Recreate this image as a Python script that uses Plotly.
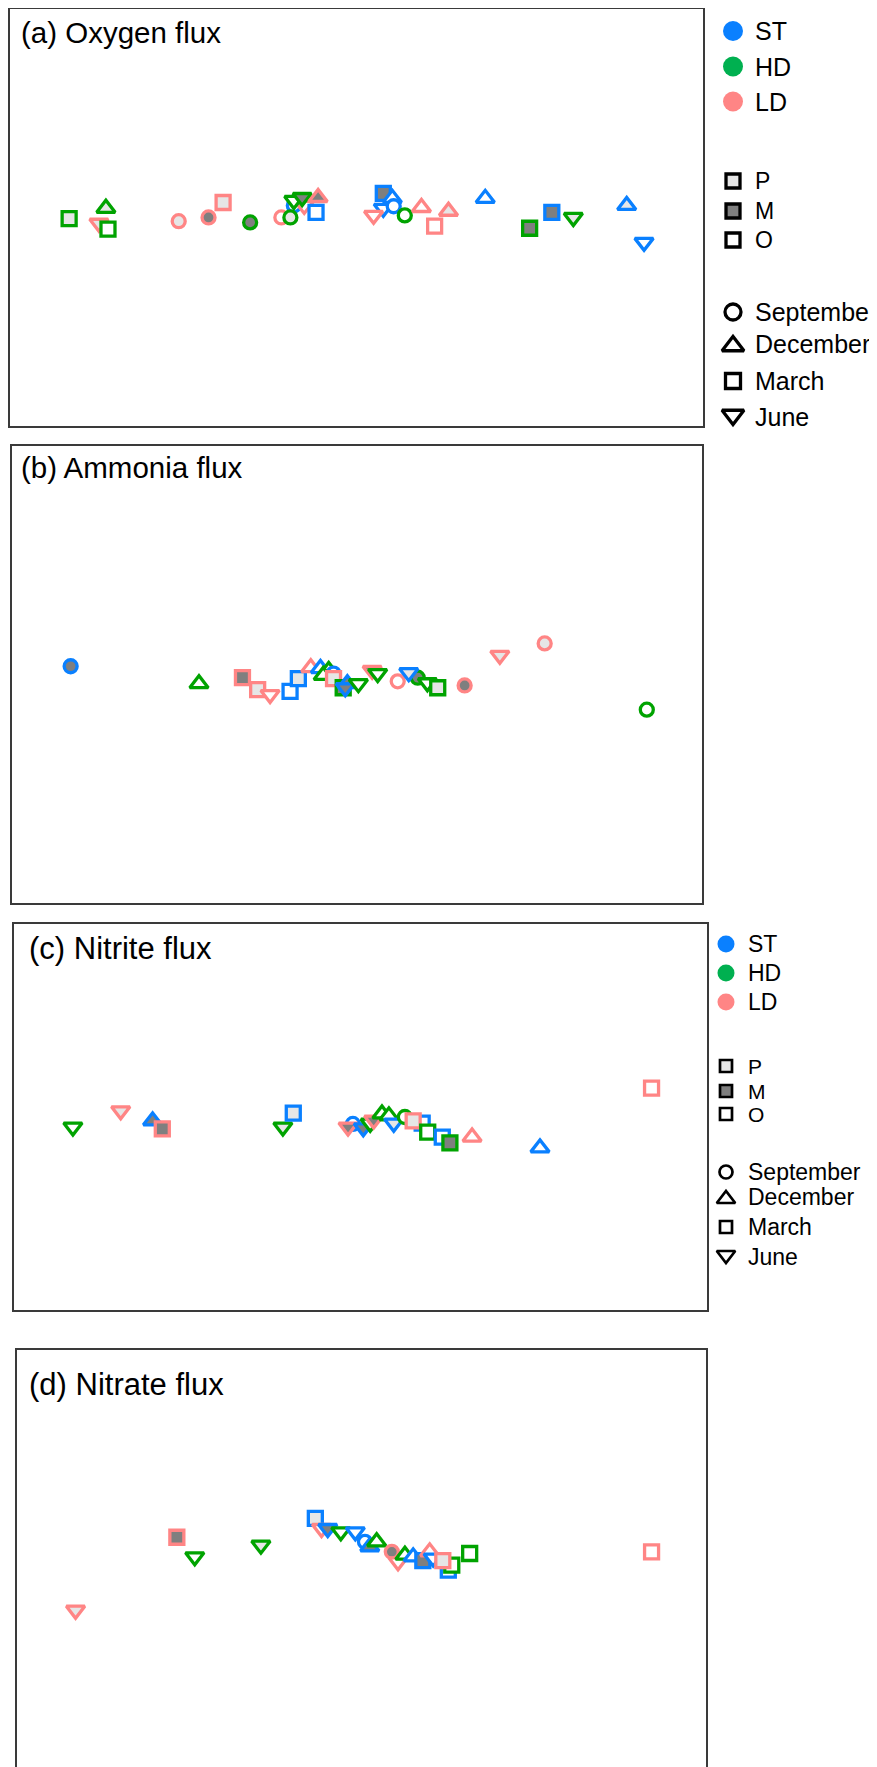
import plotly.graph_objects as go

# page is 877x1767; the html body adds an 8px margin, so the figure is drawn 8px in
PAGE_W, PAGE_H, OFF = 877, 1767, 8
W, H = PAGE_W - OFF, PAGE_H - OFF
FONT = "Liberation Sans, Arial, sans-serif"

# ---------------- categories ----------------
sites = ["ST", "HD", "LD"]
positions = ["P", "M", "O"]
months = ["September", "December", "March", "June"]

# ---------------- panel (a) Oxygen flux ----------------
a_site = ["HD", "HD", "LD", "HD", "LD", "LD", "LD", "HD", "LD", "ST", "HD", "LD", "HD", "HD", "LD", "ST",
          "ST", "ST", "ST", "ST", "LD", "HD", "LD", "LD", "LD", "ST", "HD", "ST", "HD", "ST", "ST"]
a_pos = ["P", "P", "P", "O", "P", "M", "P", "M", "O", "O", "P", "O", "O", "M", "M", "O",
         "M", "O", "O", "O", "O", "O", "O", "O", "P", "O", "M", "M", "P", "P", "O"]
a_month = ["March", "December", "June", "March", "September", "September", "March", "September", "September",
           "September", "September", "June", "June", "June", "December", "March",
           "March", "December", "June", "September", "June", "September", "December", "March", "December",
           "December", "March", "March", "June", "December", "June"]
a_x = [8.6, 13.9, 12.9, 14.2, 24.4, 28.7, 30.8, 34.7, 39.2, 41.0, 40.5, 42.5, 41.0, 42.2, 44.5, 44.2,
       53.9, 55.2, 53.9, 55.4, 52.5, 57.0, 59.4, 61.3, 63.3, 68.6, 75.0, 78.2, 81.3, 89.0, 91.5]
a_y = [49.9, 52.4, 48.8, 47.4, 49.3, 50.2, 53.8, 49.0, 50.2, 53.1, 50.2, 53.1, 54.3, 55.0, 55.0, 51.4,
       56.0, 54.8, 52.4, 52.9, 50.7, 50.7, 52.6, 48.1, 51.7, 54.8, 47.6, 51.4, 50.2, 53.1, 44.2]

# ---------------- panel (b) Ammonia flux ----------------
b_site = ["ST", "HD", "LD", "LD", "LD", "ST", "ST", "LD", "ST", "HD", "ST", "HD", "LD", "HD", "ST", "ST",
          "HD", "LD", "HD", "LD", "HD", "ST", "HD", "HD", "LD", "LD", "LD", "HD"]
b_pos = ["M", "O", "M", "P", "O", "O", "P", "O", "O", "O", "O", "O", "P", "M", "M", "M",
         "O", "M", "O", "O", "M", "P", "O", "P", "M", "P", "P", "O"]
b_month = ["September", "December", "March", "March", "June", "March", "March", "December", "December",
           "December", "September", "December", "March", "March", "December", "June",
           "June", "June", "June", "September", "September", "June", "June", "March", "September",
           "June", "September", "September"]
b_x = [8.5, 27.1, 33.4, 35.6, 37.4, 40.3, 41.5, 43.3, 44.7, 45.9, 46.6, 45.1, 46.6, 48.0, 48.6, 48.3,
       50.2, 52.2, 53.0, 55.9, 58.8, 57.5, 60.2, 61.7, 65.6, 70.7, 77.2, 92.0]
b_y = [51.8, 48.0, 49.3, 46.7, 45.6, 46.3, 49.1, 51.5, 51.3, 50.9, 50.2, 49.8, 49.1, 47.1, 48.0, 47.1,
       48.0, 50.9, 50.2, 48.5, 49.3, 50.4, 48.2, 47.1, 47.6, 54.2, 56.8, 42.3]

# ---------------- panel (c) Nitrite flux ----------------
c_site = ["HD", "LD", "ST", "LD", "HD", "ST", "ST", "LD", "ST", "HD", "LD", "HD", "HD", "ST", "HD", "ST",
          "LD", "HD", "ST", "HD", "LD", "ST", "LD"]
c_pos = ["O", "P", "M", "M", "P", "P", "O", "M", "M", "O", "M", "O", "O", "P", "O", "O",
         "P", "O", "O", "M", "O", "O", "O"]
c_month = ["June", "June", "December", "March", "June", "March", "September", "June", "June", "June",
           "June", "December", "December", "June", "September", "March",
           "March", "March", "March", "March", "December", "December", "March"]
c_x = [8.5, 15.4, 20.0, 21.4, 38.8, 40.3, 48.9, 48.2, 50.4, 51.4, 51.9, 53.1, 54.1, 54.8, 56.4, 58.9,
       57.6, 59.7, 61.8, 62.9, 66.1, 75.9, 92.0]
c_y = [47.4, 51.6, 49.0, 46.9, 47.4, 51.0, 48.2, 47.4, 47.2, 48.4, 49.2, 50.8, 50.3, 48.4, 50.0, 48.4,
       49.0, 46.1, 44.8, 43.3, 44.8, 42.0, 57.5]

# ---------------- panel (d) Nitrate flux ----------------
d_site = ["LD", "HD", "HD", "ST", "LD", "ST", "HD", "ST", "ST", "ST", "HD", "LD", "LD", "HD", "ST", "ST",
          "LD", "ST", "ST", "HD", "LD", "HD", "LD", "LD"]
d_pos = ["M", "O", "P", "P", "O", "M", "O", "O", "O", "M", "O", "M", "O", "O", "O", "M",
         "O", "O", "O", "O", "P", "O", "O", "P"]
d_month = ["March", "June", "June", "March", "June", "June", "June", "June", "September", "December",
           "December", "September", "June", "December", "December", "March",
           "December", "June", "March", "March", "March", "March", "March", "June"]
d_x = [23.2, 25.8, 35.4, 43.3, 44.2, 45.1, 47.0, 49.1, 50.5, 51.2, 52.2, 54.4, 55.3, 56.3, 57.5, 58.9,
       59.9, 60.4, 62.6, 63.1, 61.8, 65.7, 92.1, 8.5]
d_y = [55.1, 50.4, 53.2, 59.6, 57.2, 57.2, 56.4, 56.4, 54.0, 52.8, 54.0, 51.6, 49.2, 50.8, 50.4, 49.5,
       51.6, 50.1, 47.2, 48.4, 49.5, 51.2, 51.6, 37.6]

panel_titles = ["(a) Oxygen flux", "(b) Ammonia flux", "(c) Nitrite flux", "(d) Nitrate flux"]

# ---------------- styles ----------------
SITE_COLORS = {"ST": "#0A80FF", "HD": "#00A300", "LD": "#FF8585"}
LEGEND_SITE_COLORS = {"ST": "#0A80FF", "HD": "#00B050", "LD": "#FF8585"}
POS_FILLS = {"P": "#E6E6E6", "M": "#7F7F7F", "O": "#FFFFFF"}
MONTH_SYMBOLS = {"September": "circle", "December": "triangle-up", "March": "square", "June": "triangle-down"}
MONTH_SIZES = {"September": 13, "December": 16, "March": 14, "June": 16}


def px_x(p):
    return (p - OFF) / W


def px_y(p):
    return 1 - (p - OFF) / H


# panel boxes in page pixels: (left, right, top, bottom, y range top)
BOXES = [(9.5, 703, 8.5, 426, 100.5), (12, 702, 446, 903, 100.0), (14, 707, 924, 1310, 100.0),
         (17, 706, 1350, 1767, 100.0)]
TITLE_POS = [(19, 33, 29.5), (19, 468, 29.5), (27, 949, 31), (27, 1384, 31)]

panels = [
    (a_site, a_pos, a_month, a_x, a_y),
    (b_site, b_pos, b_month, b_x, b_y),
    (c_site, c_pos, c_month, c_x, c_y),
    (d_site, d_pos, d_month, d_x, d_y),
]

fig = go.Figure()
layout = dict(
    width=W, height=H, margin=dict(l=0, r=0, t=0, b=0),
    paper_bgcolor="white", plot_bgcolor="rgba(0,0,0,0)",
    showlegend=False, font=dict(family=FONT, color="black"),
)
annotations = []

for i, (s, p, m, xs, ys) in enumerate(panels):
    k = "" if i == 0 else str(i + 1)
    fig.add_trace(go.Scatter(
        x=xs, y=ys, mode="markers", xaxis="x" + k, yaxis="y" + k,
        marker=dict(
            symbol=[MONTH_SYMBOLS[v] for v in m],
            size=[MONTH_SIZES[v] for v in m],
            color=[POS_FILLS[v] for v in p],
            opacity=1,
            line=dict(color=[SITE_COLORS[v] for v in s], width=3.3),
        ),
        hoverinfo="skip",
    ))
    l, r, t, b, ytop = BOXES[i]
    last = i == 3
    layout["xaxis" + k] = dict(
        domain=[px_x(l), px_x(r)], range=[0, 100], anchor="y" + k,
        showgrid=False, zeroline=False, showticklabels=False, ticks="",
        showline=True, mirror=not last, side="top" if last else "bottom",
        linecolor="#3a3a3a", linewidth=1.5, fixedrange=True,
    )
    layout["yaxis" + k] = dict(
        domain=[max(0, px_y(b)), min(1, px_y(t))], range=[0, ytop], anchor="x" + k,
        showgrid=False, zeroline=False, showticklabels=False, ticks="",
        showline=True, mirror=True, linecolor="#3a3a3a", linewidth=1.5, fixedrange=True,
    )
    tx, ty, tsz = TITLE_POS[i]
    annotations.append(dict(
        text=panel_titles[i], x=px_x(tx), y=px_y(ty), xref="paper", yref="paper",
        xanchor="left", yanchor="middle", showarrow=False, font=dict(size=tsz, family=FONT, color="black"),
    ))

# ---------------- manual legends (overlay axis in page-pixel space) ----------------
layout["xaxis5"] = dict(domain=[0, 1], range=[OFF, PAGE_W], anchor="y5", visible=False, fixedrange=True)
layout["yaxis5"] = dict(domain=[0, 1], range=[PAGE_H, OFF], anchor="x5", visible=False, fixedrange=True)


def add_legend(sym_x, text_x, site_y, pos_y, month_y, site_sz, pos_sz, month_sz, lw, fsz, fsz_pos):
    fig.add_trace(go.Scatter(
        x=[sym_x] * 3, y=site_y, mode="markers", xaxis="x5", yaxis="y5", hoverinfo="skip",
        marker=dict(symbol="circle", size=site_sz, opacity=1,
                    color=[LEGEND_SITE_COLORS[v] for v in sites], line=dict(width=0)),
    ))
    fig.add_trace(go.Scatter(
        x=[sym_x] * 3, y=pos_y, mode="markers", xaxis="x5", yaxis="y5", hoverinfo="skip",
        marker=dict(symbol="square", size=pos_sz, opacity=1, color=[POS_FILLS[v] for v in positions],
                    line=dict(color="black", width=lw)),
    ))
    fig.add_trace(go.Scatter(
        x=[sym_x] * 4, y=[yy + off for yy, off in zip(month_y, [0, 2, 0, -2])], mode="markers",
        xaxis="x5", yaxis="y5", hoverinfo="skip",
        marker=dict(symbol=[MONTH_SYMBOLS[v] for v in months], size=month_sz, color="white", opacity=1,
                    line=dict(color="black", width=lw)),
    ))
    for labels, ys, fs in ((sites, site_y, fsz), (positions, pos_y, fsz_pos), (months, month_y, fsz)):
        for lab, yy in zip(labels, ys):
            annotations.append(dict(
                text=lab, x=px_x(text_x), y=px_y(yy), xref="paper", yref="paper",
                xanchor="left", yanchor="middle", showarrow=False,
                font=dict(size=fs, family=FONT, color="black"),
            ))


add_legend(733, 753, [31, 66.5, 101.5], [181, 211, 240], [312, 344, 381, 417],
           20, 14, [16, 19, 15, 19], 3.3, 25, 23)
add_legend(726, 746, [944, 973, 1002], [1066, 1091, 1114], [1172, 1197, 1227, 1257],
           17, 12, [13, 16, 12, 16], 2.7, 23, 21)

layout["annotations"] = annotations
fig.update_layout(**layout)
fig.write_html("out.html")
